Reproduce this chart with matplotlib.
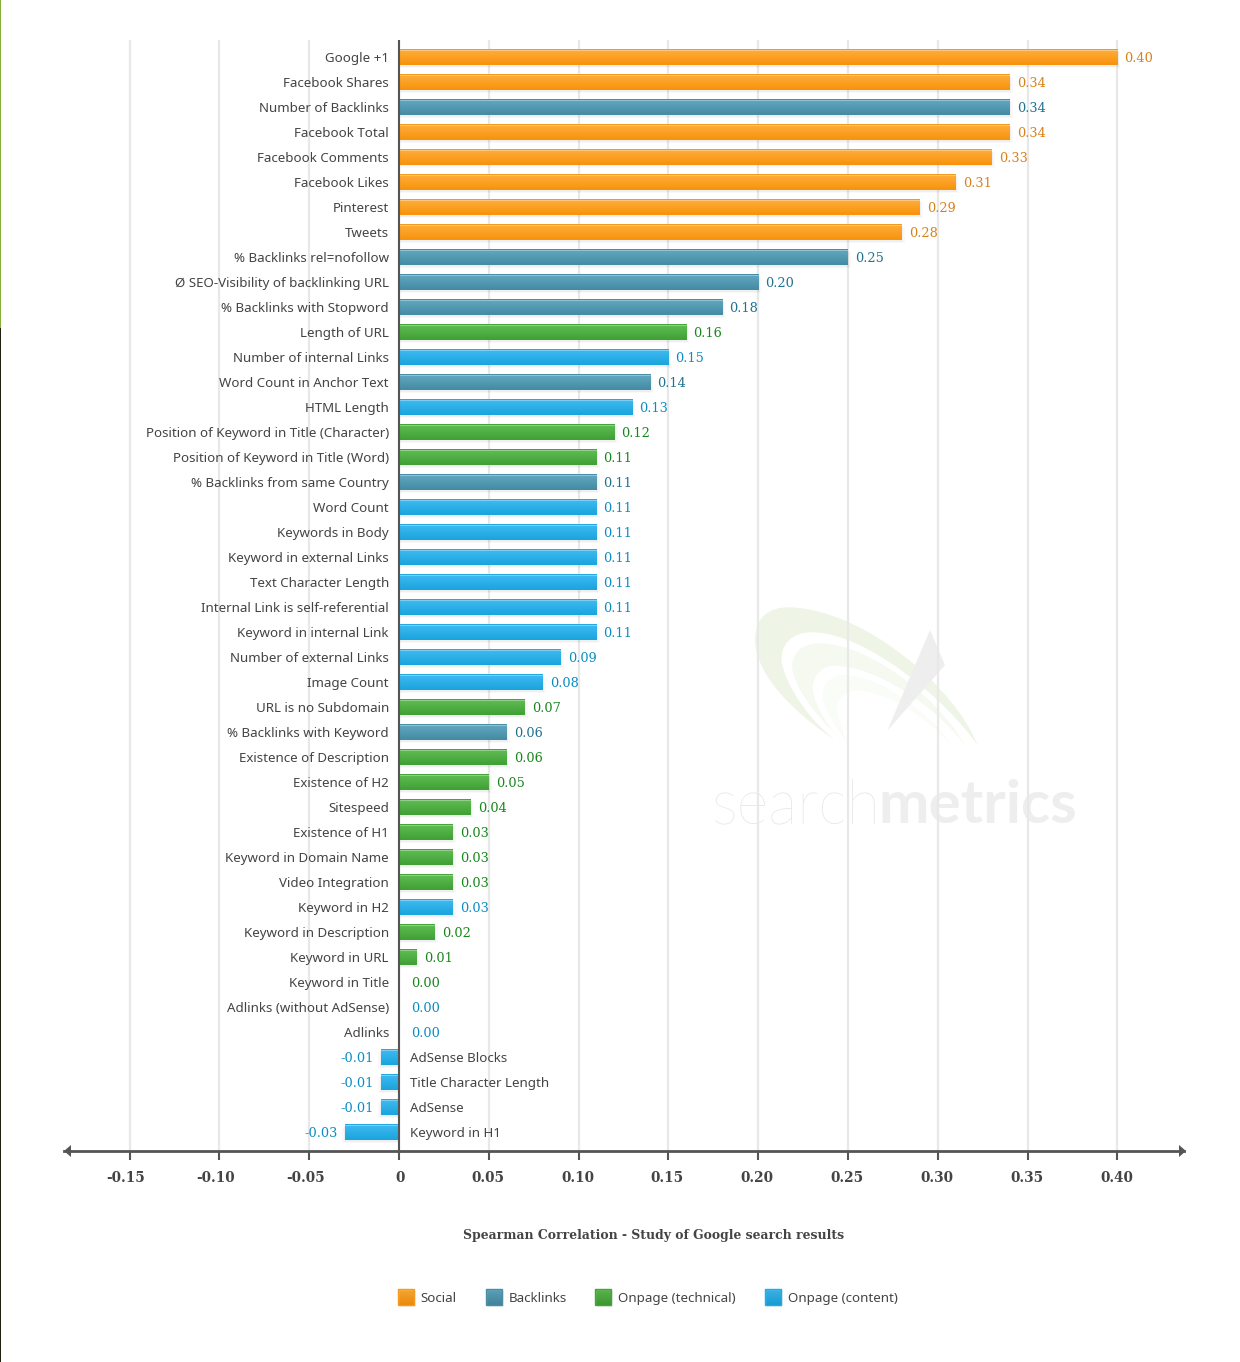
import numpy as np
import matplotlib
matplotlib.use('Agg')
import matplotlib.pyplot as plt
from matplotlib.colors import to_rgb
from matplotlib.patches import PathPatch, Rectangle, Polygon
from matplotlib.path import Path
from matplotlib.transforms import ScaledTranslation

labels = ['Google +1', 'Facebook Shares', 'Number of Backlinks', 'Facebook Total', 'Facebook Comments',
          'Facebook Likes', 'Pinterest', 'Tweets', '% Backlinks rel=nofollow',
          'Ø SEO-Visibility of backlinking URL', '% Backlinks with Stopword', 'Length of URL',
          'Number of internal Links', 'Word Count in Anchor Text', 'HTML Length',
          'Position of Keyword in Title (Character)', 'Position of Keyword in Title (Word)',
          '% Backlinks from same Country', 'Word Count', 'Keywords in Body', 'Keyword in external Links',
          'Text Character Length', 'Internal Link is self-referential', 'Keyword in internal Link',
          'Number of external Links', 'Image Count', 'URL is no Subdomain', '% Backlinks with Keyword',
          'Existence of Description', 'Existence of H2', 'Sitespeed', 'Existence of H1',
          'Keyword in Domain Name', 'Video Integration', 'Keyword in H2', 'Keyword in Description',
          'Keyword in URL', 'Keyword in Title', 'Adlinks (without AdSense)', 'Adlinks',
          'AdSense Blocks', 'Title Character Length', 'AdSense', 'Keyword in H1']
values = [0.40, 0.34, 0.34, 0.34, 0.33, 0.31, 0.29, 0.28, 0.25, 0.20, 0.18, 0.16, 0.15, 0.14, 0.13,
          0.12, 0.11, 0.11, 0.11, 0.11, 0.11, 0.11, 0.11, 0.11, 0.09, 0.08, 0.07, 0.06, 0.06, 0.05,
          0.04, 0.03, 0.03, 0.03, 0.03, 0.02, 0.01, 0.00, 0.00, 0.00, -0.01, -0.01, -0.01, -0.03]
groups = ['S', 'S', 'B', 'S', 'S', 'S', 'S', 'S', 'B', 'B', 'B', 'T', 'C', 'B', 'C',
          'T', 'T', 'B', 'C', 'C', 'C', 'C', 'C', 'C', 'C', 'C', 'T', 'B', 'T', 'T',
          'T', 'T', 'T', 'T', 'C', 'T', 'T', 'T', 'C', 'C', 'C', 'C', 'C', 'C']
legend_names = ['Social', 'Backlinks', 'Onpage (technical)', 'Onpage (content)']
legend_groups = ['S', 'B', 'T', 'C']
xticks = [-0.15, -0.10, -0.05, 0, 0.05, 0.10, 0.15, 0.20, 0.25, 0.30, 0.35, 0.40]
xticklabels = ['-0.15', '-0.10', '-0.05', '0', '0.05', '0.10', '0.15', '0.20', '0.25', '0.30', '0.35', '0.40']

# top colour, bottom colour, border, value label colour
styles = {'S': ('#ffae3c', '#f7930c', '#f49a1e', '#d8811a'),
          'B': ('#62a8c0', '#468ba4', '#4a8ea6', '#1f7290'),
          'T': ('#60bd53', '#40a035', '#45a53a', '#17871b'),
          'C': ('#40bbf1', '#1aa4de', '#25a9e2', '#0b8cc2')}

W, H = 1240, 1362
SANS = 'Noto Sans'
SERIF = 'DejaVu Serif'
TEXT = '#444444'
AXIS = '#555555'
LABEL_SIZE = 9.6
VALUE_SIZE = 9.3

fig = plt.figure(figsize=(W / 100, H / 100), dpi=100, facecolor='white')


def pixel_axes(zorder):
    # full figure axes in image pixel coords
    a = fig.add_axes([0, 0, 1, 1], zorder=zorder)
    a.set_xlim(0, W)
    a.set_ylim(H, 0)
    a.axis('off')
    return a


bg = pixel_axes(0)
fg = pixel_axes(2)
bg.add_patch(Rectangle((0, 0), 1.2, 328, color='#86ad3a', lw=0))
bg.add_patch(Rectangle((0, 328), 1.2, H - 328, color='#20200f', lw=0))


def swoosh(pts, color):
    # pts in the logo's own crop coords, cubic segments
    verts = [(680 + x / 3, 590 + y / 3) for x, y in pts]
    codes = [Path.MOVETO] + [Path.CURVE4] * (len(verts) - 2) + [Path.CLOSEPOLY]
    bg.add_patch(PathPatch(Path(verts, codes), facecolor=color, edgecolor='none'))


swoosh([(465, 450), (300, 340), (225, 230), (225, 150), (225, 80), (270, 50), (330, 52),
        (560, 60), (830, 300), (892, 465), (800, 330), (560, 130), (400, 127),
        (330, 125), (300, 170), (305, 215), (320, 300), (400, 400), (465, 450), (465, 450)], '#eef5e6')
swoosh([(485, 450), (400, 370), (335, 280), (337, 225), (340, 175), (380, 160), (425, 160),
        (570, 165), (770, 320), (855, 465), (760, 340), (580, 228), (465, 227),
        (420, 227), (395, 265), (398, 300), (405, 350), (450, 420), (485, 450), (485, 450)], '#f5f9f0')
swoosh([(497, 450), (460, 400), (428, 350), (428, 315), (430, 275), (460, 255), (495, 255),
        (590, 258), (730, 350), (815, 465), (730, 370), (610, 302), (530, 302),
        (495, 302), (470, 325), (472, 355), (475, 385), (485, 420), (497, 450), (497, 450)], '#fafcf7')
bg.add_patch(Polygon([(680 + 750 / 3, 590 + 120 / 3), (680 + 795 / 3, 590 + 225 / 3),
                      (680 + 622 / 3, 590 + 422 / 3)], closed=True, facecolor='#eeeeee', edgecolor='none'))
bg.text(712, 823, 'search', fontsize=44, family='Lato', weight='light', color='#e4e4e4', ha='left', va='baseline')
bg.text(878, 823, 'metrics', fontsize=43.5, family='Lato', weight='bold', color='#eeeeee', ha='left', va='baseline')

# main plot: axes box is the arrow line span, x scale from the gridlines
x0_px, scale_px = 399.0, 1796.0
left, right, top, bottom = 64, 1184, 40, 1151
ax = fig.add_axes([left / W, 1 - bottom / H, (right - left) / W, (bottom - top) / H], zorder=1)
ax.patch.set_alpha(0)
xlim = ((left - x0_px) / scale_px, (right - x0_px) / scale_px)
ylim = ((bottom - 57) / 25, (top - 57) / 25)

for s in ['top', 'left', 'right']:
    ax.spines[s].set_visible(False)
ax.spines['bottom'].set_color(AXIS)
ax.spines['bottom'].set_linewidth(2)
ax.set_axisbelow(True)
ax.grid(axis='x', color='#e8e8e8', linewidth=1.6)
ax.axvline(0, color=AXIS, linewidth=1.5, zorder=6)

height = 16 / 25
shade = np.linspace(0, 1, 16)[:, None]


def gradient(c_top, c_bot):
    return np.array(to_rgb(c_top))[None, None, :] * (1 - shade[:, :, None]) + np.array(to_rgb(c_bot))[None, None, :] * shade[:, :, None]


for i, (val, grp) in enumerate(zip(values, groups)):
    if val == 0:
        continue
    c_top, c_bot, c_edge, _ = styles[grp]
    for off, a in [(3.0, 0.025), (1.5, 0.04)]:
        ax.barh(i + off / 25, val + np.sign(val) * off / scale_px, height=height, color='black', alpha=a, lw=0, zorder=2)
    bar = ax.barh(i, val, height=height, color=c_edge, lw=0, zorder=3)[0]
    rgb = gradient(c_top, c_bot)
    rgb[0, 0, :] = to_rgb(c_edge)
    rgb[1, 0, :] = 0.7 * np.array(to_rgb(c_top)) + 0.3
    im = ax.imshow(rgb, extent=(min(0, val), max(0, val), i + height / 2, i - height / 2),
                   aspect='auto', interpolation='nearest', zorder=4)
    im.set_clip_path(bar)

for i, (name, val, grp) in enumerate(zip(labels, values, groups)):
    col = styles[grp][3]
    if val < 0:
        ax.annotate(name, (0, i), xytext=(11, -5), textcoords='offset pixels', ha='left', va='baseline',
                    fontsize=LABEL_SIZE, family=SANS, color=TEXT, zorder=7)
        ax.annotate(f'{val:.2f}', (val, i), xytext=(-7, -5), textcoords='offset pixels', ha='right', va='baseline',
                    fontsize=VALUE_SIZE, family=SERIF, color=col, zorder=7)
    else:
        ax.annotate(name, (0, i), xytext=(-10, -5), textcoords='offset pixels', ha='right', va='baseline',
                    fontsize=LABEL_SIZE, family=SANS, color=TEXT, zorder=7)
        ax.annotate(f'{val:.2f}', (val, i), xytext=(7 if val else 12, -5), textcoords='offset pixels', ha='left', va='baseline',
                    fontsize=VALUE_SIZE, family=SERIF, color=col, zorder=7)

ax.set_xticks(xticks)
ax.set_xticklabels(xticklabels, fontsize=9.8, family=SERIF, weight='bold', color=TEXT)
ax.tick_params(axis='x', length=6.5, width=1.5, color=AXIS, pad=8)
for tick, lab in zip(xticks, ax.get_xticklabels()):
    shift = -4 if tick < 0 else (1 if tick == 0 else -1)
    lab.set_transform(lab.get_transform() + ScaledTranslation(shift / 100, 0, fig.dpi_scale_trans))
ax.set_yticks([])
ax.set_xlim(*xlim)
ax.set_ylim(*ylim)

# arrow heads on the x axis
for xa, d in [(65, -1), (1185, 1)]:
    fg.add_patch(Polygon([(xa + d * 1, 1151), (xa - d * 6, 1145), (xa - d * 6, 1157)], closed=True,
                         facecolor=AXIS, edgecolor='none', zorder=5))

fg.text(654, 1239, 'Spearman Correlation - Study of Google search results', fontsize=8.95, family=SERIF,
        weight='bold', color=TEXT, ha='center', va='baseline')

# legend
swatch_x = [398, 486, 595, 765]
for sx, name, grp in zip(swatch_x, legend_names, legend_groups):
    c_top, c_bot, c_edge, _ = styles[grp]
    fg.add_patch(Rectangle((sx + 2, 1291), 16, 16, color='black', alpha=0.05, lw=0))
    fg.imshow(gradient(c_top, c_bot), extent=(sx, sx + 16, 1305, 1289), aspect='auto', interpolation='nearest')
    fg.add_patch(Rectangle((sx, 1289), 16, 16, facecolor='none', edgecolor=c_edge, lw=1))
    fg.text(sx + 22.5, 1302, name, fontsize=LABEL_SIZE, family=SANS, color=TEXT, ha='left', va='baseline')
fg.set_xlim(0, W)
fg.set_ylim(H, 0)

fig.savefig('out.png', dpi=100)
